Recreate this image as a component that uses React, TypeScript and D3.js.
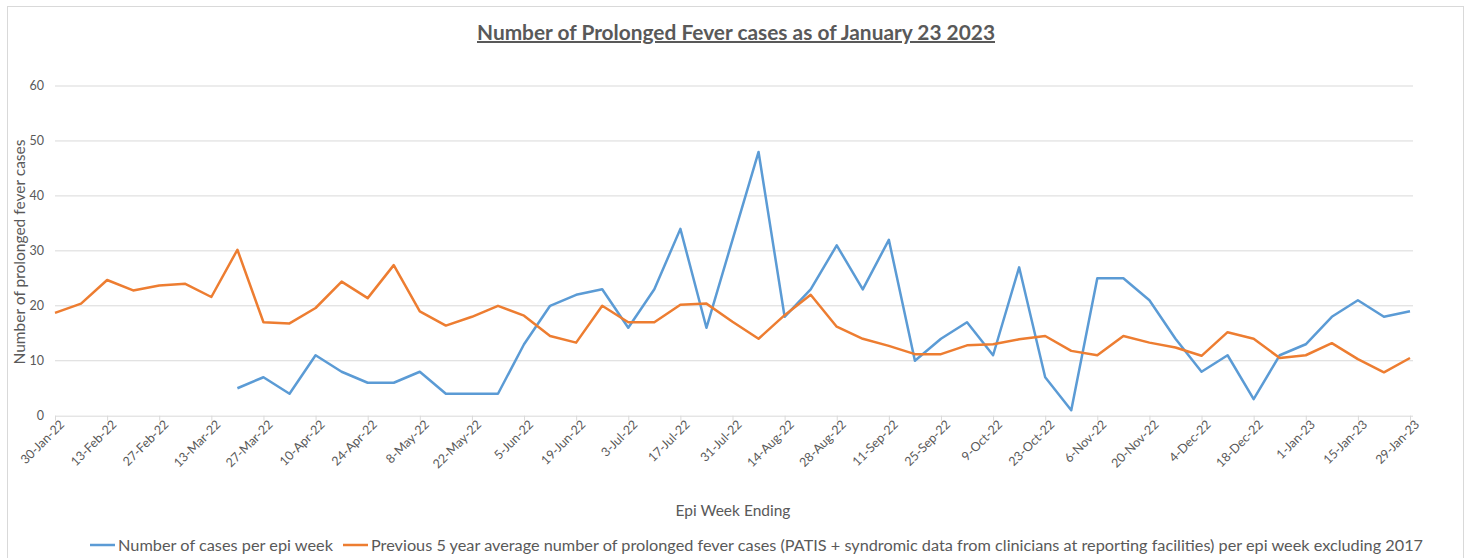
import React, { useEffect, useRef } from "react";
import * as d3 from "d3";

const weeks = [
  "30-Jan-22", "6-Feb-22", "13-Feb-22", "20-Feb-22", "27-Feb-22", "6-Mar-22", "13-Mar-22", "20-Mar-22",
  "27-Mar-22", "3-Apr-22", "10-Apr-22", "17-Apr-22", "24-Apr-22", "1-May-22", "8-May-22", "15-May-22",
  "22-May-22", "29-May-22", "5-Jun-22", "12-Jun-22", "19-Jun-22", "26-Jun-22", "3-Jul-22", "10-Jul-22",
  "17-Jul-22", "24-Jul-22", "31-Jul-22", "7-Aug-22", "14-Aug-22", "21-Aug-22", "28-Aug-22", "4-Sep-22",
  "11-Sep-22", "18-Sep-22", "25-Sep-22", "2-Oct-22", "9-Oct-22", "16-Oct-22", "23-Oct-22", "30-Oct-22",
  "6-Nov-22", "13-Nov-22", "20-Nov-22", "27-Nov-22", "4-Dec-22", "11-Dec-22", "18-Dec-22", "25-Dec-22",
  "1-Jan-23", "8-Jan-23", "15-Jan-23", "22-Jan-23", "29-Jan-23"
];

// weekly case counts (no data before 20-Mar-22)
const cases: (number | null)[] = [
  null, null, null, null, null, null, null,
  5, 7, 4, 11, 8, 6, 6, 8, 4, 4, 4, 13, 20, 22, 23, 16, 23, 34, 16, 32, 48, 18, 23, 31, 23,
  32, 10, 14, 17, 11, 27, 7, 1, 25, 25, 21, 14, 8, 11, 3, 11, 13, 18, 21, 18, 19
];

const average = [
  18.7, 20.4, 24.7, 22.8, 23.7, 24.0, 21.6, 30.2, 17.0, 16.8,
  19.6, 24.4, 21.4, 27.4, 19.0, 16.4, 18.0, 20.0, 18.2, 14.5,
  13.3, 20.0, 17.0, 17.0, 20.2, 20.4, 17.1, 14.0, 18.3, 22.0,
  16.2, 14.0, 12.7, 11.2, 11.2, 12.8, 13.0, 13.9, 14.5, 11.8,
  11.0, 14.5, 13.3, 12.4, 10.9, 15.2, 14.0, 10.5, 11.0, 13.2,
  10.3, 7.9, 10.5
];

const yTicks = [0, 10, 20, 30, 40, 50, 60];

const seriesNames = [
  "Number of cases per epi week",
  "Previous 5 year average number of prolonged fever cases (PATIS + syndromic data from clinicians at reporting facilities) per epi week excluding 2017"
];
const colors = ["#5B9BD5", "#ED7D31"];

const FONT = "Lato, 'Open Sans', sans-serif";
const GREY = "#595959";

export default function App() {
  const ref = useRef<SVGSVGElement>(null);

  useEffect(() => {
    const svg = d3.select(ref.current);
    svg.selectAll("*").remove();

    const left = 55, right = 1410, top = 86, bottom = 415.7;

    const x = d3.scalePoint<string>().domain(weeks).range([left, right]);
    const y = d3.scaleLinear().domain([0, 60]).range([bottom, top]);

    // chart frame
    svg.append("rect")
      .attr("x", 7.5).attr("y", 6.5)
      .attr("width", 1456).attr("height", 600)
      .attr("fill", "#fff").attr("stroke", "#d9d9d9");

    // title
    svg.append("text")
      .attr("x", 736).attr("y", 40)
      .attr("text-anchor", "middle")
      .attr("font-family", FONT).attr("font-weight", "bold")
      .attr("font-size", 20).attr("fill", GREY)
      .attr("text-decoration", "underline")
      .attr("textLength", 518).attr("lengthAdjust", "spacingAndGlyphs")
      .text("Number of Prolonged Fever cases as of January 23 2023");

    // gridlines
    svg.append("g")
      .selectAll("line")
      .data(yTicks.filter(d => d > 0))
      .enter()
      .append("line")
      .attr("x1", left).attr("x2", right + 3)
      .attr("y1", d => y(d)).attr("y2", d => y(d))
      .attr("stroke", "#d9d9d9").attr("stroke-width", 1);

    // y axis labels
    svg.append("g")
      .selectAll("text")
      .data(yTicks)
      .enter()
      .append("text")
      .attr("x", 44).attr("y", d => y(d) + 4)
      .attr("text-anchor", "end")
      .attr("font-family", FONT).attr("font-size", 12.5).attr("fill", GREY)
      .text(d => d);

    // y axis title
    svg.append("text")
      .attr("transform", "translate(25,252) rotate(-90)")
      .attr("text-anchor", "middle")
      .attr("font-family", FONT).attr("font-size", 15).attr("fill", GREY)
      .attr("textLength", 225).attr("lengthAdjust", "spacingAndGlyphs")
      .text("Number of prolonged fever cases");

    // x axis
    const xAxis = svg.append("g")
      .attr("transform", "translate(0," + bottom + ")")
      .call(
        d3.axisBottom(x)
          .tickValues(weeks.filter((_, i) => i % 2 === 0))
          .tickSizeInner(5).tickSizeOuter(0)
      );
    xAxis.select(".domain").attr("stroke", "#d9d9d9").attr("d", "M" + left + ",0.5H" + (right + 3));
    xAxis.selectAll(".tick line").attr("stroke", "#d9d9d9");
    xAxis.selectAll(".tick text")
      .attr("font-family", FONT).attr("font-size", 12.5).attr("fill", GREY)
      .attr("text-anchor", "end")
      .attr("dy", "0")
      .attr("transform", "translate(4,4) rotate(-45)");

    // x axis title
    svg.append("text")
      .attr("x", 733).attr("y", 516)
      .attr("text-anchor", "middle")
      .attr("font-family", FONT).attr("font-size", 15.5).attr("fill", GREY)
      .text("Epi Week Ending");

    const line = d3.line<number | null>()
      .defined(d => d !== null)
      .x((_, i) => x(weeks[i]) as number)
      .y(d => y(d as number));

    [cases, average].forEach((s, k) => {
      svg.append("path")
        .datum(s)
        .attr("d", line)
        .attr("fill", "none")
        .attr("stroke", colors[k])
        .attr("stroke-width", 2.5)
        .attr("stroke-linejoin", "round");
    });

    // legend
    const legendX = [90, 343];
    const legendW = [215, 1052];
    seriesNames.forEach((name, k) => {
      svg.append("line")
        .attr("x1", legendX[k]).attr("x2", legendX[k] + 25)
        .attr("y1", 545).attr("y2", 545)
        .attr("stroke", colors[k]).attr("stroke-width", 2.5);
      svg.append("text")
        .attr("x", legendX[k] + 28).attr("y", 550.5)
        .attr("font-family", FONT).attr("font-size", 15.5).attr("fill", GREY)
        .attr("textLength", legendW[k]).attr("lengthAdjust", "spacingAndGlyphs")
        .text(name);
    });
  }, []);

  return (
    <svg
      ref={ref}
      width={1469}
      height={558}
      style={{ position: "absolute", left: 0, top: 0, display: "block" }}
    />
  );
}
